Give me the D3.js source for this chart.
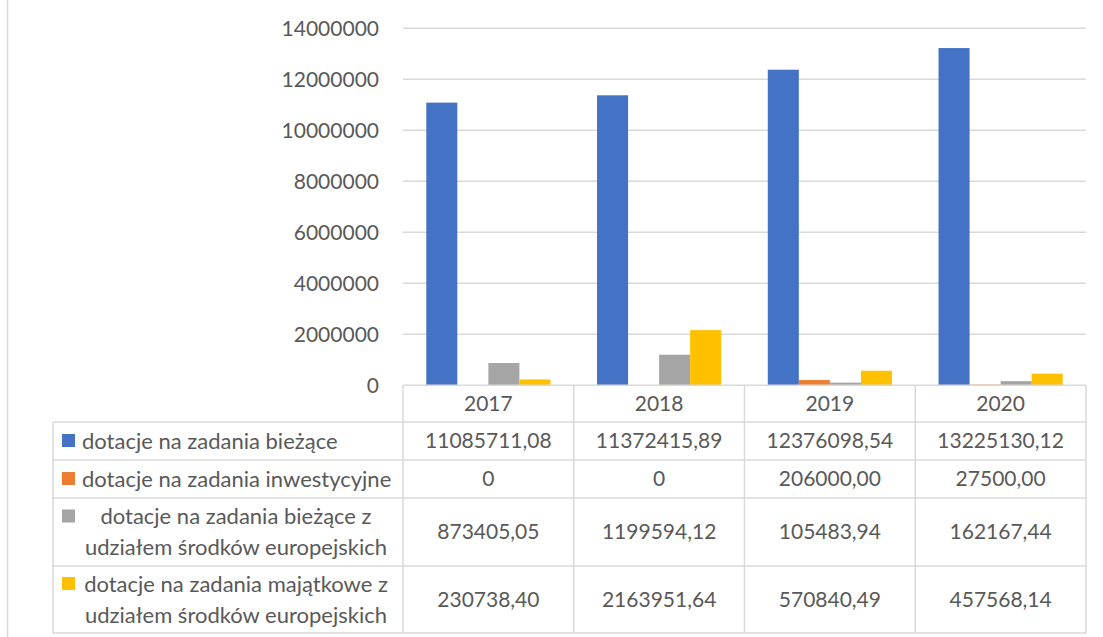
<!DOCTYPE html>
<html>
<head>
<meta charset="utf-8">
<script src="https://cdn.jsdelivr.net/npm/d3@7"></script>
<style>
  body { margin: 0; background: #fff; }
  text { font-family: Lato, "Open Sans", sans-serif; fill: #595959; }
</style>
</head>
<body>
<div id="chart"></div>
<script>
// data
const years = ["2017", "2018", "2019", "2020"];
const seriesNames = [
  "dotacje na zadania bieżące",
  "dotacje na zadania inwestycyjne",
  "dotacje na zadania bieżące z udziałem środków europejskich",
  "dotacje na zadania majątkowe z udziałem środków europejskich"
];
const seriesLines = [
  ["dotacje na zadania bieżące"],
  ["dotacje na zadania inwestycyjne"],
  ["dotacje na zadania bieżące z", "udziałem środków europejskich"],
  ["dotacje na zadania majątkowe z", "udziałem środków europejskich"]
];
const biezace = [11085711.08, 11372415.89, 12376098.54, 13225130.12];
const inwestycyjne = [0, 0, 206000.00, 27500.00];
const biezaceUE = [873405.05, 1199594.12, 105483.94, 162167.44];
const majatkoweUE = [230738.40, 2163951.64, 570840.49, 457568.14];
const valueLabels = [
  ["11085711,08", "11372415,89", "12376098,54", "13225130,12"],
  ["0", "0", "206000,00", "27500,00"],
  ["873405,05", "1199594,12", "105483,94", "162167,44"],
  ["230738,40", "2163951,64", "570840,49", "457568,14"]
];
const yTicks = [0, 2000000, 4000000, 6000000, 8000000, 10000000, 12000000, 14000000];
const colors = ["#4472C4", "#ED7D31", "#A5A5A5", "#FFC000"];

const allSeries = [biezace, inwestycyjne, biezaceUE, majatkoweUE];

const W = 1103, H = 637;
const plotLeft = 403, plotRight = 1086;
const plotTop = 28.3, plotBottom = 385.3;
const tableLeft = 53;
const rowEdges = [385.3, 422, 460, 498, 566, 633];
const gridColor = "#d9d9d9";
const numSize = "21px", labSize = "22px";

const svg = d3.select("#chart").append("svg")
  .attr("width", W).attr("height", H);

// frame line on the left
svg.append("line")
  .attr("x1", 7.5).attr("x2", 7.5).attr("y1", 0).attr("y2", H)
  .attr("stroke", gridColor).attr("stroke-width", 1.5);

const x0 = d3.scaleBand().domain(years).range([plotLeft, plotRight]);
const x1 = d3.scaleBand().domain(d3.range(allSeries.length))
  .range([0, x0.bandwidth()]).paddingOuter(0.75).paddingInner(0);
const y = d3.scaleLinear().domain([0, 14000000]).range([plotBottom, plotTop]);

// gridlines
svg.append("g").selectAll("line")
  .data(yTicks.filter(d => d > 0))
  .enter().append("line")
  .attr("x1", plotLeft).attr("x2", plotRight)
  .attr("y1", d => y(d)).attr("y2", d => y(d))
  .attr("stroke", gridColor).attr("stroke-width", 1.5);

// y axis labels
const yAxis = d3.axisLeft(y).tickValues(yTicks).tickFormat(d3.format("d")).tickSize(0).tickPadding(24);
const gy = svg.append("g").attr("transform", `translate(${plotLeft},0)`).call(yAxis);
gy.select(".domain").remove();
gy.selectAll("text").style("font-family", "Lato, 'Open Sans', sans-serif")
  .style("font-size", numSize).attr("fill", "#595959");

// bars
const groups = svg.append("g").selectAll("g")
  .data(years)
  .enter().append("g")
  .attr("transform", d => `translate(${x0(d)},0)`);

groups.selectAll("rect")
  .data((yr, i) => allSeries.map((s, k) => ({ k: k, v: s[i] })))
  .enter().append("rect")
  .attr("x", d => x1(d.k))
  .attr("width", x1.bandwidth())
  .attr("y", d => y(d.v))
  .attr("height", d => plotBottom - y(d.v))
  .attr("fill", d => colors[d.k]);

// data table
const table = svg.append("g");
const lineStyle = sel => sel.attr("stroke", gridColor).attr("stroke-width", 1.5).attr("fill", "none");

// horizontal lines
table.append("line").attr("x1", plotLeft).attr("x2", plotRight)
  .attr("y1", rowEdges[0]).attr("y2", rowEdges[0]).call(lineStyle);
table.selectAll("line.h")
  .data(rowEdges.slice(1))
  .enter().append("line").attr("class", "h")
  .attr("x1", tableLeft).attr("x2", plotRight)
  .attr("y1", d => d).attr("y2", d => d).call(lineStyle);

// vertical lines
const colEdges = years.map(d => x0(d)).concat([plotRight]);
table.selectAll("line.v")
  .data(colEdges)
  .enter().append("line").attr("class", "v")
  .attr("x1", d => d).attr("x2", d => d)
  .attr("y1", rowEdges[0]).attr("y2", rowEdges[rowEdges.length - 1]).call(lineStyle);
table.append("line").attr("x1", tableLeft).attr("x2", tableLeft)
  .attr("y1", rowEdges[1]).attr("y2", rowEdges[rowEdges.length - 1]).call(lineStyle);

// header years
table.selectAll("text.year")
  .data(years)
  .enter().append("text").attr("class", "year")
  .attr("x", d => x0(d) + x0.bandwidth() / 2)
  .attr("y", (rowEdges[0] + rowEdges[1]) / 2)
  .attr("text-anchor", "middle").attr("dy", "0.35em")
  .style("font-size", numSize)
  .text(d => d);

// values
seriesNames.forEach((name, k) => {
  const cy = (rowEdges[k + 1] + rowEdges[k + 2]) / 2;
  table.selectAll("text.val" + k)
    .data(valueLabels[k])
    .enter().append("text").attr("class", "val" + k)
    .attr("x", (d, i) => x0(years[i]) + x0.bandwidth() / 2)
    .attr("y", cy)
    .attr("text-anchor", "middle").attr("dy", "0.35em")
    .style("font-size", numSize)
    .text(d => d);

  // legend key
  const lines = seriesLines[k];
  const lh = 31;
  const firstY = cy - (lines.length - 1) * lh / 2;
  table.append("rect")
    .attr("x", 62).attr("y", firstY - 7).attr("width", 13).attr("height", 13)
    .attr("fill", colors[k]);
  const multi = lines.length > 1;
  table.selectAll("text.lab" + k)
    .data(lines)
    .enter().append("text").attr("class", "lab" + k)
    .attr("x", multi ? 236 : 82)
    .attr("y", (d, j) => firstY + j * lh)
    .attr("text-anchor", multi ? "middle" : "start").attr("dy", "0.35em")
    .style("font-size", labSize)
    .text(d => d);
});
</script>
</body>
</html>
